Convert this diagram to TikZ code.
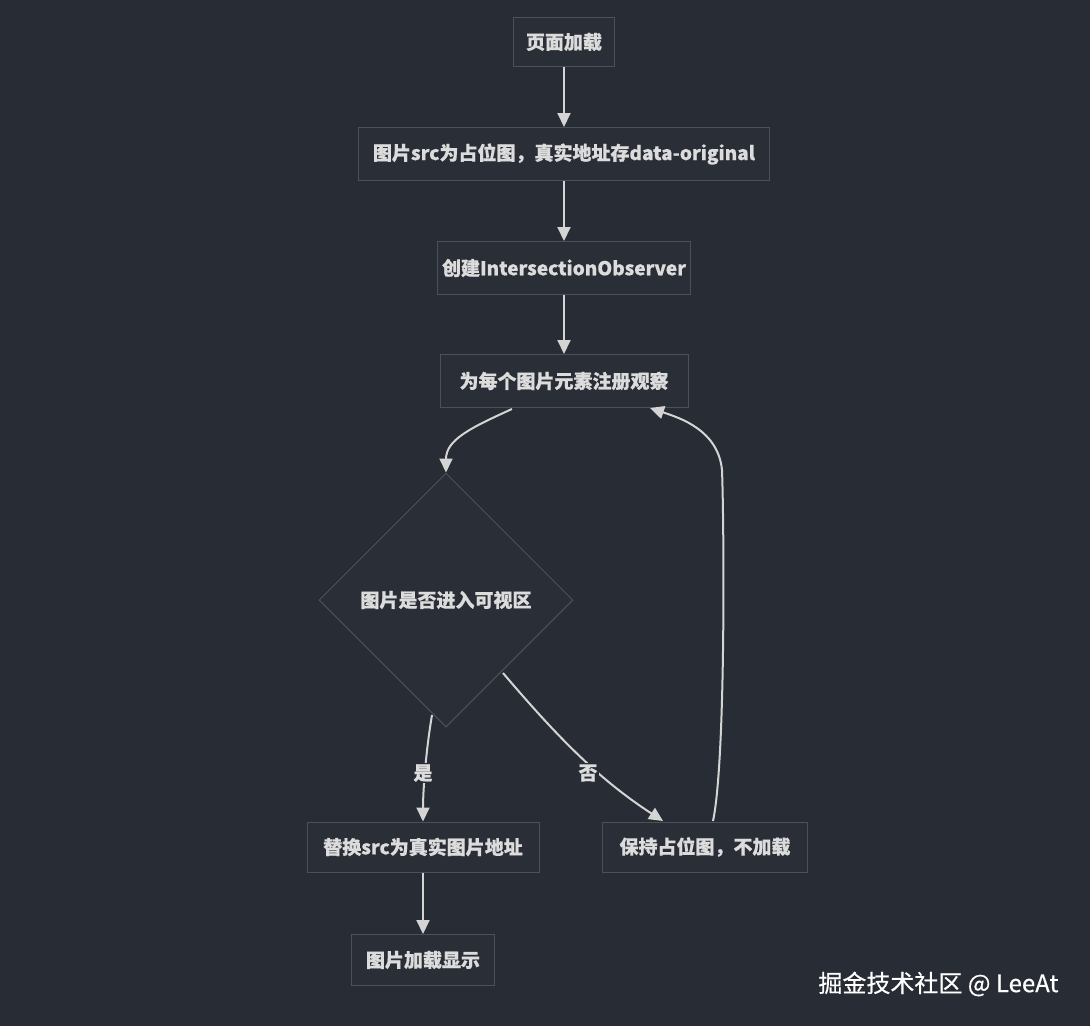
\documentclass[tikz,border=0pt]{standalone}
\usepackage{fontspec}
\setmainfont[FakeBold=0.5]{Noto Sans CJK SC}
\usetikzlibrary{arrows.meta,shapes.geometric}
\definecolor{bg}{HTML}{282C34}
\definecolor{nodefill}{HTML}{2A2E36}
\definecolor{nodeline}{HTML}{4B5059}
\definecolor{txt}{HTML}{DCDCDC}
\definecolor{edge}{HTML}{D4D4D4}
\tikzset{
  box/.style={draw=nodeline, fill=nodefill, line width=1pt, text=txt, font=\fontsize{19}{23}\selectfont\bfseries, inner sep=0pt, anchor=center},
  conn/.style={draw=edge, line width=2pt, -{Triangle[length=14pt,width=13pt]}},
  lbl/.style={text=txt, font=\fontsize{19}{23}\selectfont\bfseries, fill=bg, inner sep=1pt}
}
\begin{document}
\begin{tikzpicture}[x=1pt,y=-1pt]
\fill[bg] (0,0) rectangle (1090,1026);
\useasboundingbox (0,0) rectangle (1090,1026);
\node[box, minimum width=101pt, minimum height=49pt] (a) at (564,42) {页面加载};
\node[box, minimum width=411pt, minimum height=53pt] (b) at (564,154) {图片src为占位图，真实地址存data-original};
\node[box, minimum width=253pt, minimum height=53pt] (c) at (564,268) {创建IntersectionObserver};
\node[box, minimum width=248pt, minimum height=53pt] (d) at (564,381) {为每个图片元素注册观察};
\node[box, diamond, minimum width=254pt, minimum height=254pt] (e) at (446,600) {图片是否进入可视区};
\node[box, minimum width=232pt, minimum height=50pt] (f) at (423,847) {替换src为真实图片地址};
\node[box, minimum width=205pt, minimum height=50pt] (g) at (705,847) {保持占位图，不加载};
\node[box, minimum width=143pt, minimum height=51pt] (h) at (423,960) {图片加载显示};
\draw[conn] (a) -- (b);
\draw[conn] (b) -- (c);
\draw[conn] (c) -- (d);
\draw[conn] (512,409) .. controls (470,428) and (446,440) .. (e.north);
\draw[conn] (432,715) .. controls (426,750) and (423,790) .. (f.north);
\draw[conn] (503,673) .. controls (560,740) and (600,780) .. (663,821);
\draw[conn] (713,821) .. controls (726,760) and (724,520) .. (722,470) .. controls (718,430) and (680,418) .. (650,408);
\node[lbl] (y) at (423,773) {是};
\node[lbl] (n) at (588,773) {否};
\draw[conn] (f) -- (h);
\node[text=white, font=\fontsize{24}{28}\selectfont, anchor=east] (w) at (1062,984) {掘金技术社区 @ LeeAt};
\end{tikzpicture}
\end{document}
